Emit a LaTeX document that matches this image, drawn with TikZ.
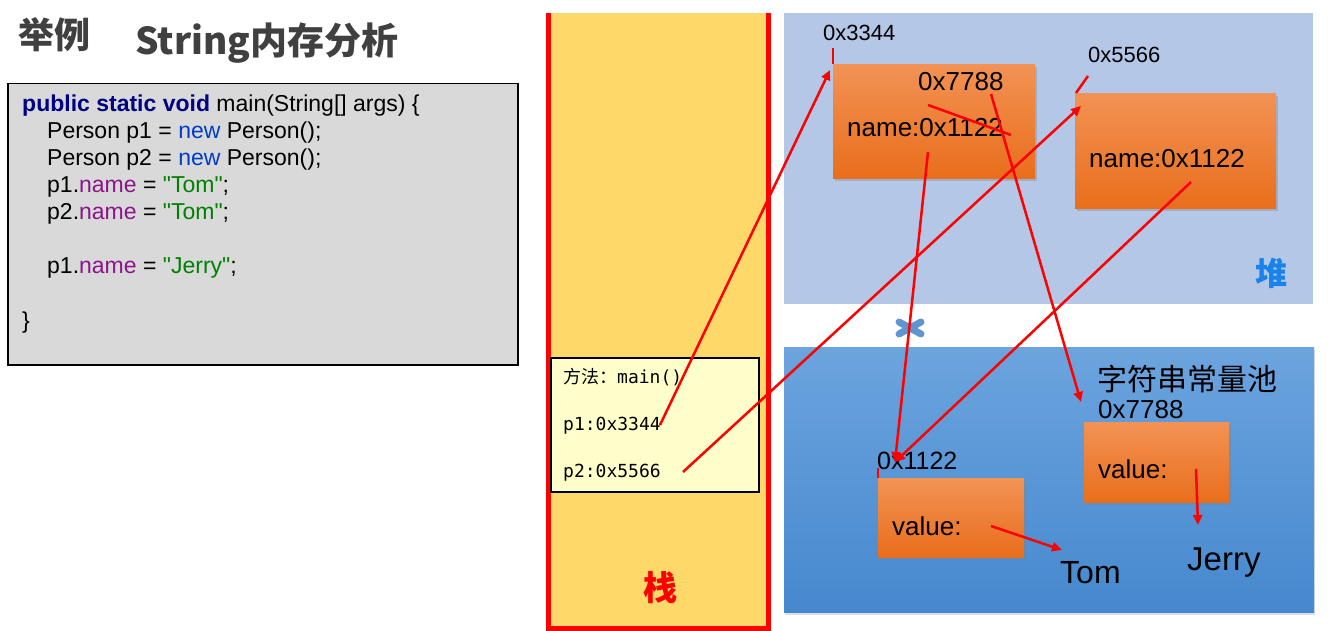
\documentclass[tikz,border=0pt]{standalone}
\usepackage{fontspec}
\setmainfont{Liberation Sans}
\setmonofont{DejaVu Sans Mono}
\newfontfamily\cjk{Noto Sans CJK SC}
\newfontfamily\plainsans{Liberation Sans}
\usetikzlibrary{arrows.meta,shadows}
\definecolor{titlegray}{RGB}{64,64,64}
\definecolor{codebg}{RGB}{217,217,217}
\definecolor{kwblue}{RGB}{0,0,128}
\definecolor{newblue}{RGB}{0,60,200}
\definecolor{fieldpurple}{RGB}{140,20,140}
\definecolor{strgreen}{RGB}{0,128,0}
\definecolor{stackfill}{RGB}{254,216,104}
\definecolor{framefill}{RGB}{255,255,204}
\definecolor{heapfill}{RGB}{180,199,231}
\definecolor{pooltop}{RGB}{108,164,222}
\definecolor{poolbot}{RGB}{70,136,206}
\definecolor{orangetop}{RGB}{242,146,84}
\definecolor{orangebot}{RGB}{233,110,28}
\definecolor{heaplabel}{RGB}{25,130,235}
\definecolor{xblue}{RGB}{95,150,210}
\definecolor{linered}{RGB}{255,0,0}
\newcommand{\qq}{{\plainsans\char34}}
\tikzset{
  codeline/.style={anchor=base west,inner sep=0pt,font=\fontsize{23}{27}\selectfont},
  monotext/.style={anchor=base west,inner sep=0pt,font=\ttfamily\fontsize{18}{20}\selectfont},
  lbl/.style={anchor=base west,inner sep=0pt,font=\fontsize{#1}{#1}\selectfont},
  objbox/.style={anchor=north west,inner sep=0pt,top color=orangetop,bottom color=orangebot,
    drop shadow={shadow xshift=2pt,shadow yshift=-3pt,opacity=0.35}},
  ref/.style={draw=linered,line width=2.5pt,-{Triangle[length=10pt,width=9pt]}},
  tick/.style={draw=linered,line width=2.5pt},
}
\begin{document}
\begin{tikzpicture}[x=1pt,y=-1pt]
\useasboundingbox (0,0) rectangle (1334,631);
\fill[white] (0,0) rectangle (1334,631);

% titles
\node[anchor=west,inner sep=0pt,text=titlegray,font=\cjk\bfseries\fontsize{36}{40}\selectfont] (ex) at (18,35) {举例};
\node[anchor=west,inner sep=0pt,text=titlegray,font=\cjk\bfseries\fontsize{37}{40}\selectfont] (title) at (135,43) {String内存分析};

% code box
\node[anchor=north west,inner sep=0pt,draw=black,line width=1.5pt,fill=codebg,minimum width=510pt,minimum height=281pt] (code) at (7,83) {};
\node[codeline] (c1) at (22,112) {\textcolor{kwblue}{\bfseries public static void} main(String[] args) \{};
\node[codeline] (c2) at (47,139) {Person p1 = \textcolor{newblue}{new} Person();};
\node[codeline] (c3) at (47,166) {Person p2 = \textcolor{newblue}{new} Person();};
\node[codeline] (c4) at (47,193) {p1.\textcolor{fieldpurple}{name} = \textcolor{strgreen}{\qq Tom\qq};};
\node[codeline] (c5) at (47,220) {p2.\textcolor{fieldpurple}{name} = \textcolor{strgreen}{\qq Tom\qq};};
\node[codeline] (c6) at (47,274) {p1.\textcolor{fieldpurple}{name} = \textcolor{strgreen}{\qq Jerry\qq};};
\node[codeline] (c7) at (22,328) {\}};

% stack
\node[anchor=north west,inner sep=0pt,fill=stackfill,minimum width=220pt,minimum height=615pt] (stack) at (548,13) {};
\draw[linered,line width=5pt] (stack.north west) -- (stack.south west) -- (stack.south east) -- (stack.north east);
\node[anchor=north west,inner sep=0pt,draw=black,line width=1.5pt,fill=framefill,minimum width=208pt,minimum height=134pt] (frame) at (550,357) {};
\node[monotext] (m0) at (563,383) {{\cjk 方法：}main()};
\node[monotext] (p1) at (563,430) {p1:0x3344};
\node[monotext] (p2) at (563,477) {p2:0x5566};
\node[inner sep=0pt,text=linered,font=\cjk\bfseries\fontsize{34}{34}\selectfont] (zhan) at (660,588) {栈};

% heap
\node[anchor=north west,inner sep=0pt,fill=heapfill,minimum width=529pt,minimum height=291pt] (heap) at (784,13) {};
\node[inner sep=0pt,text=heaplabel,font=\cjk\bfseries\fontsize{32}{32}\selectfont] (dui) at (1271,273) {堆};
\node[objbox,minimum width=202pt,minimum height=114pt] (obj1) at (833,64) {};
\node[objbox,minimum width=201pt,minimum height=115pt] (obj2) at (1075,93) {};
\node[lbl=22] (a3344) at (823,41) {0x3344};
\node[lbl=22] (a5566) at (1088,63) {0x5566};
\node[lbl=26] (o1new) at (918,91) {0x7788};
\node[lbl=26] (o1name) at (847,137) {name:0x1122};
\node[lbl=26] (o2name) at (1089,168) {name:0x1122};

% string pool
\node[anchor=north west,inner sep=0pt,top color=pooltop,bottom color=poolbot,minimum width=530pt,minimum height=265pt,
  drop shadow={shadow xshift=1pt,shadow yshift=-3pt,opacity=0.25}] (pool) at (784,347) {};
\node[anchor=west,inner sep=0pt,font=\cjk\fontsize{30}{30}\selectfont] (pooltitle) at (1097,379) {字符串常量池};
\node[lbl=26] (a7788) at (1098,418) {0x7788};
\node[objbox,minimum width=146pt,minimum height=79pt] (tombox) at (878,478) {};
\node[objbox,minimum width=145pt,minimum height=80pt] (jerrybox) at (1084,422) {};
\node[lbl=25] (a1122) at (877,469) {0x1122};
\node[lbl=26] (v1) at (892,535) {value:};
\node[lbl=26] (v2) at (1098,478) {value:};
\node[lbl=32] (tom) at (1060,583) {Tom};
\node[lbl=33] (jerry) at (1187,570) {Jerry};

% blue cross
\coordinate (xc) at (910,328);
\draw[xblue,line width=7pt,line cap=round] ([shift={(-11,-6)}]xc) -- ([shift={(11,6)}]xc);
\draw[xblue,line width=7pt,line cap=round] ([shift={(-11,6)}]xc) -- ([shift={(11,-6)}]xc);

% reference coordinates
\coordinate (s1) at (660,425);
\coordinate (e1) at (830,70);
\coordinate (s2) at (683,472);
\coordinate (e2) at (1081,106);
\coordinate (k1) at (928,105);
\coordinate (k2) at (1011,135);
\coordinate (s3) at (991,94);
\coordinate (e3) at (1081,402);
\coordinate (s4) at (928,152);
\coordinate (s5) at (1191,182);
\coordinate (e45) at (895,462);
\coordinate (s6) at (991,526);
\coordinate (e6) at (1062,550);
\coordinate (s7) at (1196,469);
\coordinate (e7) at (1198,525);
\coordinate (t1a) at (833,48);
\coordinate (t1b) at (833,64);
\coordinate (t2a) at (1088,76);
\coordinate (t2b) at (1076,93);
\coordinate (t3a) at (878,468);
\coordinate (t3b) at (878,478);

% connectors
\draw[ref] (s1) -- (e1);
\draw[ref] (s2) -- (e2);
\draw[tick] (k1) -- (k2);
\draw[ref] (s3) -- (e3);
\draw[ref] (s4) -- (e45);
\draw[ref] (s5) -- (e45);
\draw[ref] (s6) -- (e6);
\draw[ref] (s7) -- (e7);
\draw[tick] (t1a) -- (t1b);
\draw[tick] (t2a) -- (t2b);
\draw[tick,line width=2pt] (t3a) -- (t3b);
\end{tikzpicture}
\end{document}
